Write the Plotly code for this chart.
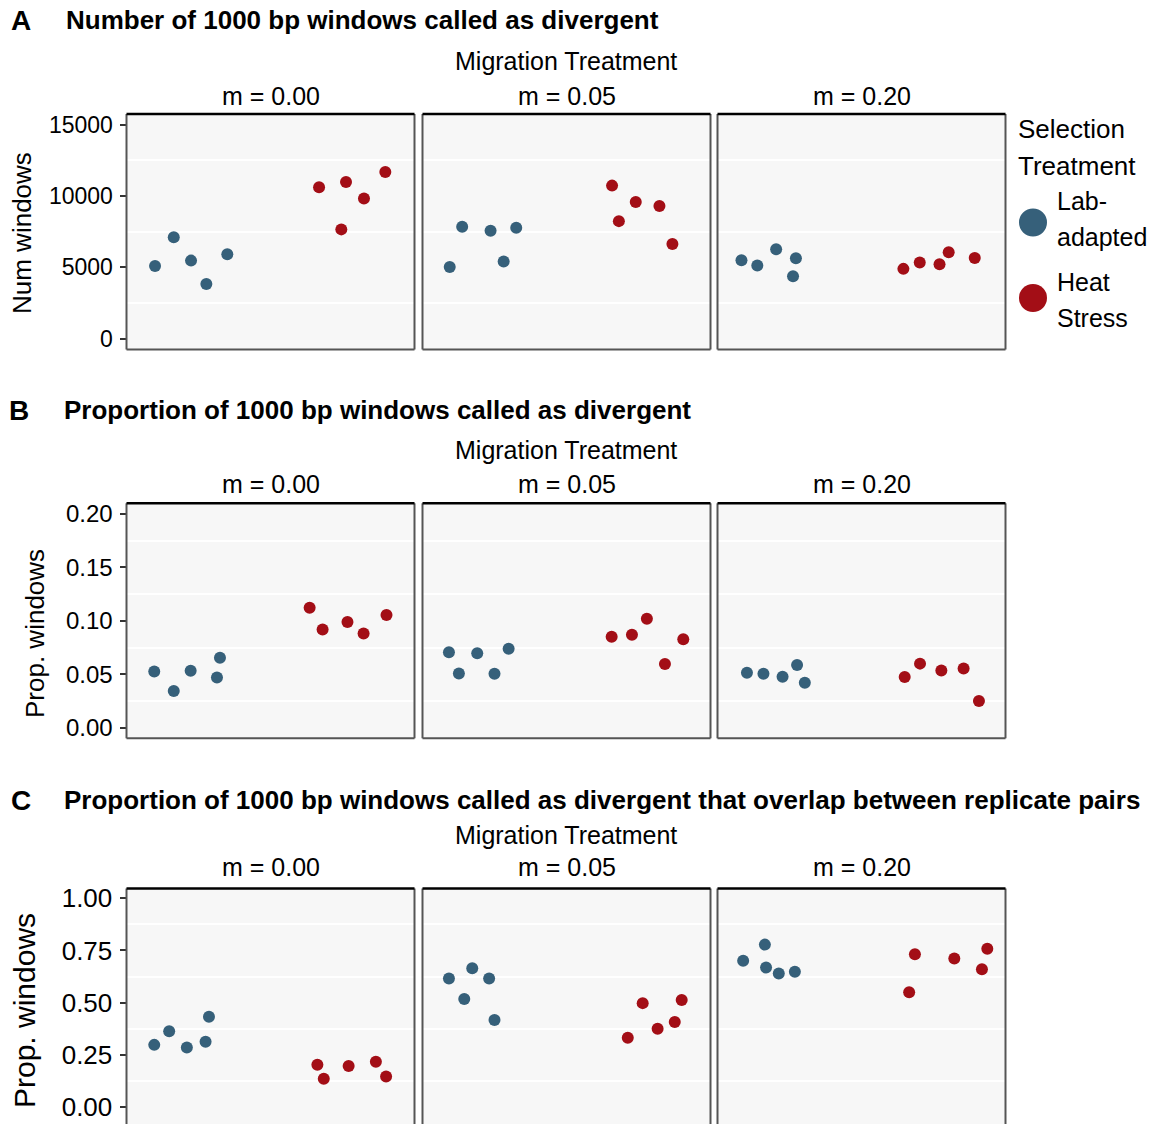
import plotly.graph_objects as go

# ---------------- data ----------------
facets = ["m = 0.00", "m = 0.05", "m = 0.20"]
groups = ["Lab-adapted", "Heat Stress"]

# Row A: number of windows (x = jittered category position: 1 = Lab-adapted, 2 = Heat Stress)
a_lab_x = [[0.618, 0.761, 0.893, 1.010, 1.170], [0.608, 0.703, 0.920, 1.020, 1.116], [0.583, 0.704, 0.848, 0.999, 0.977]]
a_lab_y = [[5108, 7108, 5477, 3833, 5923], [5038, 7847, 7568, 5408, 7777], [5505, 5129, 6272, 5645, 4390]]
a_heat_x = [[1.871, 2.077, 2.214, 2.377, 2.041], [1.848, 1.900, 2.029, 2.210, 2.309], [1.820, 1.945, 2.096, 2.166, 2.365]]
a_heat_y = [[10613, 10983, 9826, 11680, 7666], [10732, 8244, 9589, 9310, 6641], [4899, 5338, 5226, 6063, 5666]]

# Row B: proportion of windows
b_lab_x = [[0.612, 0.761, 0.890, 1.091, 1.114], [0.602, 0.678, 0.818, 0.950, 1.058], [0.625, 0.751, 0.897, 1.008, 1.067]]
b_lab_y = [[0.0525, 0.0343, 0.0532, 0.0470, 0.0655], [0.0705, 0.0507, 0.0696, 0.0504, 0.0739], [0.0513, 0.0504, 0.0476, 0.0587, 0.0420]]
b_heat_x = [[1.799, 1.898, 2.088, 2.211, 2.386], [1.845, 2.000, 2.114, 2.252, 2.392], [1.830, 1.947, 2.110, 2.280, 2.397]]
b_heat_y = [[0.1122, 0.0918, 0.0989, 0.0881, 0.1054], [0.0850, 0.0869, 0.1020, 0.0596, 0.0828], [0.0473, 0.0599, 0.0534, 0.0553, 0.0250]]

# Row C: proportion overlapping between replicate pairs
c_lab_x = [[0.612, 0.726, 0.861, 1.004, 1.030], [0.602, 0.719, 0.780, 0.909, 0.950], [0.596, 0.762, 0.771, 0.868, 0.991]]
c_lab_y = [[0.2977, 0.3628, 0.2851, 0.3130, 0.4326], [0.6153, 0.5177, 0.6651, 0.6153, 0.4167], [0.7005, 0.7781, 0.6679, 0.6400, 0.6479]]
c_heat_x = [[1.858, 1.907, 2.097, 2.305, 2.383], [1.968, 2.082, 2.196, 2.327, 2.380], [1.864, 1.908, 2.209, 2.420, 2.461]]
c_heat_y = [[0.2028, 0.1349, 0.1967, 0.2167, 0.1456], [0.3316, 0.4977, 0.3749, 0.4074, 0.5130], [0.5502, 0.7316, 0.7116, 0.6605, 0.7581]]

a_ticks = [0, 5000, 10000, 15000]
a_ticktext = ["0", "5000", "10000", "15000"]
a_minor = [2500, 7500, 12500]
b_ticks = [0.00, 0.05, 0.10, 0.15, 0.20]
b_ticktext = ["0.00", "0.05", "0.10", "0.15", "0.20"]
b_minor = [0.025, 0.075, 0.125, 0.175]
c_ticks = [0.00, 0.25, 0.50, 0.75, 1.00]
c_ticktext = ["0.00", "0.25", "0.50", "0.75", "1.00"]
c_minor = [0.125, 0.375, 0.625, 0.875]

titles = ["Number of 1000 bp windows called as divergent",
          "Proportion of 1000 bp windows called as divergent",
          "Proportion of 1000 bp windows called as divergent that overlap between replicate pairs"]
letters = ["A", "B", "C"]
ytitles = ["Num windows", "Prop. windows", "Prop. windows"]

# ---------------- styling ----------------
W, H = 1156, 1124
BLUE = "#36607A"
RED = "#A30E16"
FONT = "Liberation Sans, Arial, sans-serif"

def fx(px):
    return px / W

def fy(py):
    return 1 - py / H

col_px = [(126.5, 414.5), (422.5, 710.5), (717.5, 1005.5)]
row_px = [(114, 349.5), (503.3, 738.3), (888.5, 1124)]
yranges = [[-750, 15750], [-0.01, 0.21], [-0.0815, 1.047]]
tick_sizes = [23, 24, 26]
ytitle_sizes = [26, 26, 30]
tickinfo = [(a_ticks, a_ticktext, a_minor), (b_ticks, b_ticktext, b_minor), (c_ticks, c_ticktext, c_minor)]
rows_data = [(a_lab_x, a_lab_y, a_heat_x, a_heat_y),
             (b_lab_x, b_lab_y, b_heat_x, b_heat_y),
             (c_lab_x, c_lab_y, c_heat_x, c_heat_y)]

fig = go.Figure()
layout = dict(
    width=W, height=H, margin=dict(l=0, r=0, t=0, b=0, autoexpand=False),
    paper_bgcolor="white", plot_bgcolor="#F7F7F7",
    showlegend=False, font=dict(family=FONT, color="black"),
)
shapes = []
annotations = []

for r in range(3):
    lx, ly, hx, hy = rows_data[r]
    tv, tt, mv = tickinfo[r]
    for c in range(3):
        k = r * 3 + c + 1
        xa = "x" if k == 1 else f"x{k}"
        ya = "y" if k == 1 else f"y{k}"
        fig.add_trace(go.Scatter(x=lx[c], y=ly[c], mode="markers", name=groups[0],
                                 marker=dict(color=BLUE, size=12, line=dict(width=0)),
                                 xaxis=xa, yaxis=ya))
        fig.add_trace(go.Scatter(x=hx[c], y=hy[c], mode="markers", name=groups[1],
                                 marker=dict(color=RED, size=12, line=dict(width=0)),
                                 xaxis=xa, yaxis=ya))
        x0, x1 = col_px[c]
        y0, y1 = row_px[r]
        layout["xaxis" if k == 1 else f"xaxis{k}"] = dict(
            domain=[fx(x0), fx(x1)], range=[0.4, 2.6], showgrid=False, zeroline=False,
            showticklabels=False, ticks="", anchor=ya, fixedrange=True, automargin=False)
        layout["yaxis" if k == 1 else f"yaxis{k}"] = dict(
            domain=[fy(y1), fy(y0)], range=yranges[r], showgrid=False, zeroline=False,
            tickmode="array", tickvals=tv, ticktext=tt,
            showticklabels=(c == 0), ticks="outside" if c == 0 else "",
            ticklen=6, tickwidth=1.5, tickcolor="#333333", ticklabelstandoff=2,
            ticklabeloverflow="allow", automargin=False,
            tickfont=dict(size=tick_sizes[r], family=FONT, color="black"),
            minor=dict(tickmode="array", tickvals=mv, showgrid=True, gridcolor="white", gridwidth=1.5, ticks=""),
            anchor=xa, fixedrange=True)
        # panel border: grey sides/bottom, black top
        xd = f"{xa} domain"
        yd = f"{ya} domain"
        side = dict(color="#555555", width=2)
        shapes.append(dict(type="line", xref=xd, yref=yd, x0=0, x1=0, y0=0, y1=1, line=side, layer="above"))
        shapes.append(dict(type="line", xref=xd, yref=yd, x0=1, x1=1, y0=0, y1=1, line=side, layer="above"))
        if r < 2:
            shapes.append(dict(type="line", xref=xd, yref=yd, x0=0, x1=1, y0=0, y1=0, line=side, layer="above"))
        shapes.append(dict(type="line", xref=xd, yref=yd, x0=0, x1=1, y0=1, y1=1,
                           line=dict(color="black", width=2.5), layer="above"))
        # strip label
        strip_y = [96, 484, 867][r]
        annotations.append(dict(text=facets[c], x=fx((x0 + x1) / 2), y=fy(strip_y), xref="paper", yref="paper",
                                showarrow=False, xanchor="center", yanchor="middle",
                                font=dict(size=25, family=FONT, color="black")))
    # Migration treatment header
    mig_y = [61, 450, 835][r]
    annotations.append(dict(text="Migration Treatment", x=fx(566), y=fy(mig_y), xref="paper", yref="paper",
                            showarrow=False, xanchor="center", yanchor="middle",
                            font=dict(size=25, family=FONT, color="black")))
    # panel letter and title
    ty = [20, 410, 800][r]
    annotations.append(dict(text=f"<b>{letters[r]}</b>", x=fx([9, 7, 9][r]), y=fy(ty), xref="paper", yref="paper",
                            showarrow=False, xanchor="left", yanchor="middle",
                            font=dict(size=28, family=FONT, color="black")))
    annotations.append(dict(text=f"<b>{titles[r]}</b>", x=fx([64, 62, 62][r]), y=fy(ty), xref="paper", yref="paper",
                            showarrow=False, xanchor="left", yanchor="middle",
                            font=dict(size=26, family=FONT, color="black")))
    # y axis title
    ytx, yty = [(22, 233), (35, 634), (24, 1011)][r]
    annotations.append(dict(text=ytitles[r], x=fx(ytx), y=fy(yty), xref="paper", yref="paper",
                            showarrow=False, xanchor="center", yanchor="middle", textangle=-90,
                            font=dict(size=ytitle_sizes[r], family=FONT, color="black")))

# legend (drawn manually)
for txt, ly_ in [("Selection", 129), ("Treatment", 166)]:
    annotations.append(dict(text=txt, x=fx(1016), y=fy(ly_), xref="paper", yref="paper",
                            showarrow=False, xanchor="left", yanchor="middle",
                            font=dict(size=26, family=FONT, color="black")))
for txt, ly_ in [("Lab-", 201), ("adapted", 237), ("Heat", 282), ("Stress", 318)]:
    annotations.append(dict(text=txt, x=fx(1055), y=fy(ly_), xref="paper", yref="paper",
                            showarrow=False, xanchor="left", yanchor="middle",
                            font=dict(size=25, family=FONT, color="black")))
for col, cy in [(BLUE, 222.5), (RED, 298)]:
    shapes.append(dict(type="circle", xref="paper", yref="paper",
                       x0=fx(1033 - 14), x1=fx(1033 + 14), y0=fy(cy + 14), y1=fy(cy - 14),
                       fillcolor=col, line=dict(width=0)))

layout["shapes"] = shapes
layout["annotations"] = annotations
fig.update_layout(**layout)
fig.write_html("out.html")
